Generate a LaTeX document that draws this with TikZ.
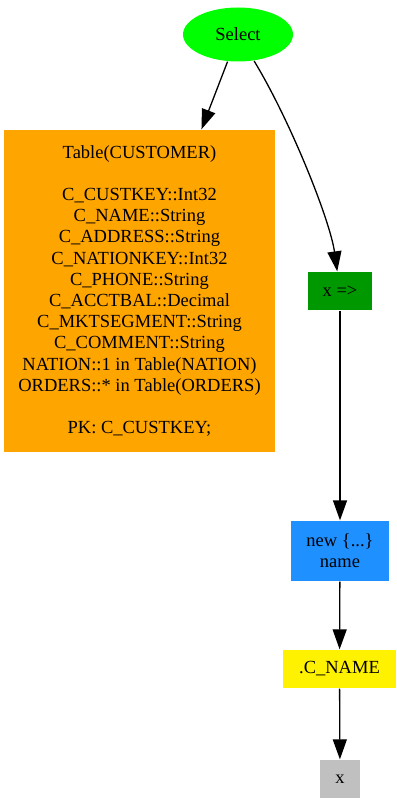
\documentclass[tikz,border=0pt]{standalone}
\usepackage{fontspec}
\setmainfont{Liberation Serif}
\usetikzlibrary{arrows.meta,shapes.geometric}

\begin{document}
\begin{tikzpicture}[x=1pt, y=-1pt,
	every node/.style={font=\fontsize{18.5}{21.2}\selectfont, inner sep=0pt, align=center},
	box/.style={rectangle, draw=none},
	>={Triangle[length=20pt, width=14pt]}, line width=1.3pt]
	\useasboundingbox (0,0) rectangle (396,799);
	\node[ellipse, fill=green, minimum width=110, minimum height=54] (select) at (238,34.5) {Select};
	\node[box, fill={rgb,255:red,255;green,165;blue,0}, minimum width=271, minimum height=322] (customer) at (139.5,291)
		{Table(CUSTOMER)\\ ~ \\ C\_CUSTKEY::Int32\\ C\_NAME::String\\ C\_ADDRESS::String\\ C\_NATIONKEY::Int32\\
		 C\_PHONE::String\\ C\_ACCTBAL::Decimal\\ C\_MKTSEGMENT::String\\ C\_COMMENT::String\\
		 NATION::1 in Table(NATION)\\ ORDERS::* in Table(ORDERS)\\ ~ \\ PK: C\_CUSTKEY;};
	\node[box, fill={rgb,255:red,0;green,152;blue,0}, minimum width=64, minimum height=38] (lambda) at (340,291) {x =>};
	\node[box, fill={rgb,255:red,30;green,144;blue,255}, minimum width=98, minimum height=60] (newobj) at (340,551) {new \{...\}\\ name};
	\node[box, fill=yellow, minimum width=113, minimum height=38] (cname) at (339.5,669) {.C\_NAME};
	\node[box, fill={rgb,255:red,192;green,192;blue,192}, minimum width=40, minimum height=38] (xvar) at (340,779) {x};
	% edges
	\draw[->] (select) -- (customer);
	\draw[->] (select) .. controls (290,120) and (330,220) .. (lambda);
	\draw[->] (lambda) -- (newobj);
	\draw[->] (newobj) -- (cname);
	\draw[->] (cname) -- (xvar);
\end{tikzpicture}
\end{document}
